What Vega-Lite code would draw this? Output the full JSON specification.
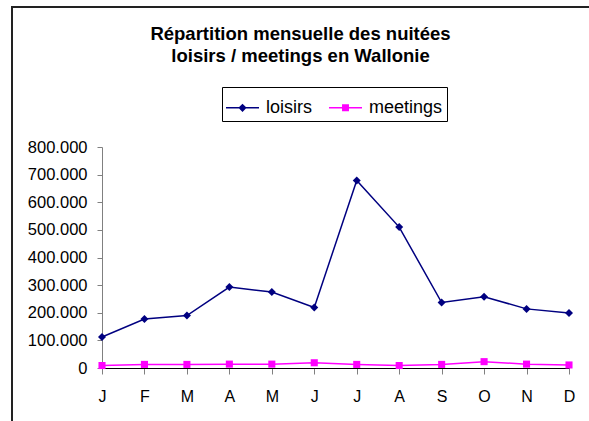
{
  "$schema": "https://vega.github.io/schema/vega-lite/v6.json",
  "autosize": {"type": "none"},
  "padding": {"left": 12, "top": 7, "right": -23, "bottom": -20},
  "width": 600,
  "height": 434,
  "background": "white",
  "config": {
    "font": "Liberation Sans",
    "locale": {"number": {"decimal": ",", "thousands": ".", "grouping": [3], "currency": ["", " €"]}},
    "view": {"stroke": "#222222", "strokeWidth": 2},
    "axis": {"grid": false, "labelFont": "Liberation Sans", "labelColor": "black", "title": null}
  },
  "title": {
    "text": ["Répartition mensuelle des nuitées", "loisirs / meetings en Wallonie"],
    "font": "Liberation Sans",
    "fontSize": 18.5,
    "fontWeight": "bold",
    "color": "black",
    "lineHeight": 22,
    "anchor": "middle",
    "frame": "group",
    "dx": -11.5,
    "offset": -58
  },
  "data": {
    "values": [
      {"mois": "Janvier", "serie": "loisirs", "nuitees": 112000},
      {"mois": "Février", "serie": "loisirs", "nuitees": 177000},
      {"mois": "Mars", "serie": "loisirs", "nuitees": 190000},
      {"mois": "Avril", "serie": "loisirs", "nuitees": 293000},
      {"mois": "Mai", "serie": "loisirs", "nuitees": 275000},
      {"mois": "Juin", "serie": "loisirs", "nuitees": 219000},
      {"mois": "Juillet", "serie": "loisirs", "nuitees": 679000},
      {"mois": "Août", "serie": "loisirs", "nuitees": 510000},
      {"mois": "Septembre", "serie": "loisirs", "nuitees": 237000},
      {"mois": "Octobre", "serie": "loisirs", "nuitees": 258000},
      {"mois": "Novembre", "serie": "loisirs", "nuitees": 214000},
      {"mois": "Décembre", "serie": "loisirs", "nuitees": 199000},
      {"mois": "Janvier", "serie": "meetings", "nuitees": 9000},
      {"mois": "Février", "serie": "meetings", "nuitees": 13000},
      {"mois": "Mars", "serie": "meetings", "nuitees": 13000},
      {"mois": "Avril", "serie": "meetings", "nuitees": 14000},
      {"mois": "Mai", "serie": "meetings", "nuitees": 14000},
      {"mois": "Juin", "serie": "meetings", "nuitees": 19000},
      {"mois": "Juillet", "serie": "meetings", "nuitees": 13000},
      {"mois": "Août", "serie": "meetings", "nuitees": 9000},
      {"mois": "Septembre", "serie": "meetings", "nuitees": 13000},
      {"mois": "Octobre", "serie": "meetings", "nuitees": 23000},
      {"mois": "Novembre", "serie": "meetings", "nuitees": 14000},
      {"mois": "Décembre", "serie": "meetings", "nuitees": 11000}
    ]
  },
  "encoding": {
    "x": {
      "field": "mois",
      "type": "nominal",
      "sort": null,
      "scale": {"type": "point", "padding": 0, "range": [90, 557]},
      "axis": {
        "orient": "bottom",
        "offset": -73,
        "labelAngle": 0,
        "labelExpr": "substring(datum.label, 0, 1)",
        "labelFontSize": 16,
        "labelPadding": 14,
        "tickSize": 6,
        "tickColor": "#808080",
        "domainColor": "black",
        "domainWidth": 1
      }
    },
    "y": {
      "field": "nuitees",
      "type": "quantitative",
      "scale": {"domain": [0, 800000], "nice": false, "zero": true, "range": [361, 140]},
      "axis": {
        "orient": "left",
        "offset": -90,
        "values": [0, 100000, 200000, 300000, 400000, 500000, 600000, 700000, 800000],
        "format": ",.0f",
        "labelFontSize": 16.5,
        "labelPadding": 10,
        "tickSize": 5,
        "tickColor": "#808080",
        "domainColor": "#808080",
        "domainWidth": 1
      }
    },
    "color": {
      "field": "serie",
      "type": "nominal",
      "scale": {"domain": ["loisirs", "meetings"], "range": ["#000080", "#FF00FF"]},
      "legend": {
        "orient": "none",
        "legendX": 210,
        "legendY": 80,
        "direction": "horizontal",
        "title": null,
        "padding": 4,
        "strokeColor": "#000000",
        "fillColor": "white",
        "symbolSize": 1089,
        "symbolStrokeWidth": 0,
        "labelFont": "Liberation Sans",
        "labelFontSize": 18,
        "labelColor": "black",
        "labelOffset": 7,
        "columnPadding": 16,
        "encode": {
          "symbols": {
            "update": {
              "shape": {"signal": "datum.value === 'loisirs' ? 'M-1,-0.05H1V0.05H-1Z M0,-0.25L0.25,0L0,0.25L-0.25,0Z' : 'M-1,-0.05H1V0.05H-1Z M-0.21,-0.21H0.21V0.21H-0.21Z'"},
              "fill": {"signal": "datum.value === 'loisirs' ? '#000080' : '#FF00FF'"}
            }
          }
        }
      }
    }
  },
  "layer": [
    {"mark": {"type": "line", "strokeWidth": 1.5}},
    {
      "transform": [{"filter": "datum.serie === 'loisirs'"}],
      "mark": {"type": "point", "filled": true, "opacity": 1, "size": 64, "shape": "diamond"}
    },
    {
      "transform": [{"filter": "datum.serie === 'meetings'"}],
      "mark": {"type": "point", "filled": true, "opacity": 1, "size": 50, "shape": "square"}
    }
  ]
}
